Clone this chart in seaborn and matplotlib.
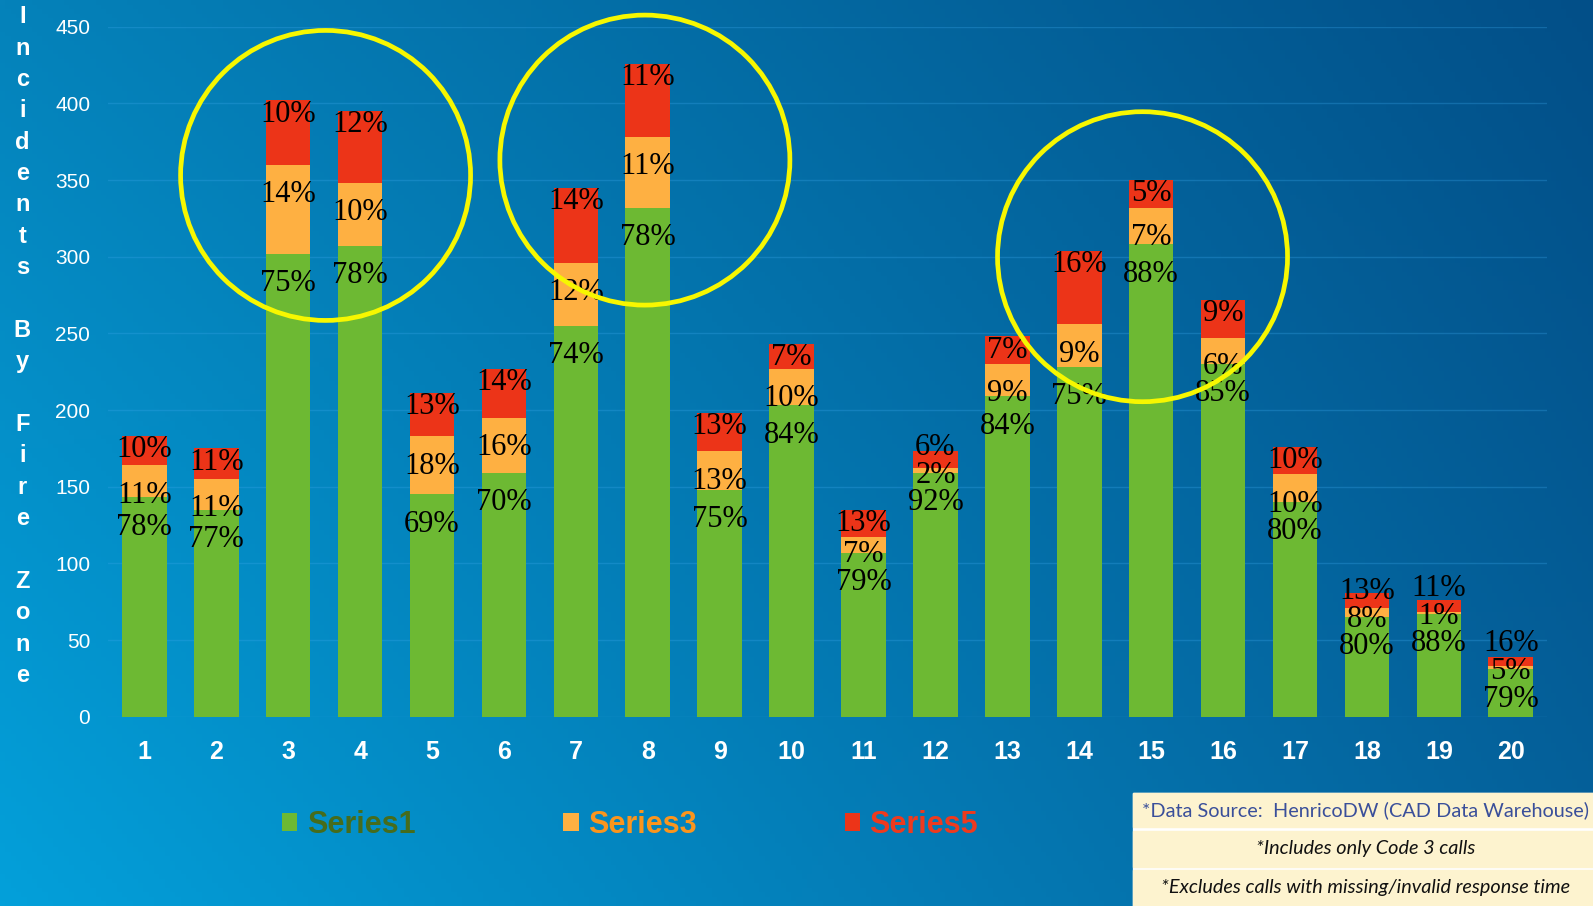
import numpy as np
import pandas as pd
import matplotlib
matplotlib.use("Agg")
import matplotlib.pyplot as plt
import seaborn as sns
from matplotlib.patches import Patch, Ellipse, Rectangle
from matplotlib.colors import to_rgb

# ---------------- data ----------------
zones = [str(i) for i in range(1, 21)]
series1 = [143, 135, 302, 307, 145, 159, 255, 332, 148, 203, 107, 159, 209, 228, 308, 230, 140, 65, 67, 31]
series3 = [21, 20, 58, 41, 38, 36, 41, 46, 25, 24, 10, 3, 21, 28, 24, 17, 18, 6, 1, 2]
series5 = [19, 20, 42, 47, 28, 32, 49, 48, 25, 16, 18, 11, 18, 48, 18, 25, 18, 10, 8, 6]
pct1 = [78, 77, 75, 78, 69, 70, 74, 78, 75, 84, 79, 92, 84, 75, 88, 85, 80, 80, 88, 79]
pct3 = [11, 11, 14, 10, 18, 16, 12, 11, 13, 10, 7, 2, 9, 9, 7, 6, 10, 8, 1, 5]
pct5 = [10, 11, 10, 12, 13, 14, 14, 11, 13, 7, 13, 6, 7, 16, 5, 9, 10, 13, 11, 16]
series_names = ["Series1", "Series3", "Series5"]
yticks = [0, 50, 100, 150, 200, 250, 300, 350, 400, 450]
ylabel_text = "Incidents By Fire Zone"
notes = ["*Data Source:  HenricoDW (CAD Data Warehouse)",
         "*Includes only Code 3 calls",
         "*Excludes calls with missing/invalid response time"]

# highlight circles (zone position, value)
highlights = [(2.52, 353), (6.96, 363), (13.88, 300)]

# ---------------- style ----------------
GREEN = "#6db933"
ORANGE = "#feb042"
RED = "#ec3418"
LEG_TEXT = ["#466c1c", "#fb951d", "#ee3a1e"]

W, H = 1593, 906
fig = plt.figure(figsize=(W / 100, H / 100), dpi=100)

# background gradient
tl, bl, tr, br = [np.array(to_rgb(c)) for c in ("#0582ba", "#03a0da", "#024f88", "#05629c")]
ny, nx = 200, 300
yy, xx = np.meshgrid(np.linspace(0, 1, ny), np.linspace(0, 1, nx), indexing="ij")
grad = ((1 - xx)[..., None] * ((1 - yy)[..., None] * tl + yy[..., None] * bl)
        + xx[..., None] * ((1 - yy)[..., None] * tr + yy[..., None] * br))
bg = fig.add_axes([0, 0, 1, 1], zorder=-10)
bg.imshow(grad, aspect="auto", extent=[0, 1, 0, 1], origin="upper")
bg.axis("off")

ax_l, ax_b = 108.4 / W, (H - 716.7) / H
ax_w, ax_h = 1438.3 / W, 690.0 / H
ax = fig.add_axes([ax_l, ax_b, ax_w, ax_h])
ax.set_facecolor("none")

df = pd.DataFrame({"zone": zones,
                   "s1": series1,
                   "s13": np.add(series1, series3),
                   "total": np.add(np.add(series1, series3), series5)})

for col, c in (("total", RED), ("s13", ORANGE), ("s1", GREEN)):
    sns.barplot(data=df, x="zone", y=col, order=zones, color=c, saturation=1,
                width=0.62, errorbar=None, ax=ax, linewidth=0, zorder=2)

ax.set_xlim(-0.5, 19.5)
ax.set_ylim(0, 450)
ax.set_yticks(yticks)
ax.set_xlabel("")
ax.set_ylabel("")
for s in ax.spines.values():
    s.set_visible(False)
ax.yaxis.grid(True, color="#3aa6ea", alpha=0.3, lw=1)
ax.xaxis.grid(False)
ax.set_axisbelow(True)
ax.tick_params(axis="x", length=0, pad=17, labelsize=18, labelcolor="white")
ax.tick_params(axis="y", length=0, pad=13, labelsize=15, labelcolor="white")
for lb in ax.get_xticklabels():
    lb.set_fontweight("bold")
    lb.set_fontfamily("Liberation Sans")
for lb in ax.get_yticklabels():
    lb.set_fontfamily("Liberation Sans")

# percentage labels
off, off_top, gap = 19.5, 9, 18
lab_font = dict(family="Liberation Serif", size=22, color="black",
                ha="center", va="center", zorder=5)
for i in range(len(zones)):
    t1 = series1[i]
    t3 = t1 + series3[i]
    t5 = t3 + series5[i]
    y1 = t1 - off
    y3 = max(t3 - off, y1 + gap)
    y5 = max(t5 - off_top, y3 + gap)
    ax.text(i, y1, f"{pct1[i]}%", **lab_font)
    ax.text(i, y3, f"{pct3[i]}%", **lab_font)
    ax.text(i, y5, f"{pct5[i]}%", **lab_font)

# yellow highlight circles
xs = ax_w * W / 20.0
ys = ax_h * H / 450.0
r = 145
for cx, cy in highlights:
    ax.add_patch(Ellipse((cx, cy), 2 * r / xs, 2 * r / ys, fill=False,
                         ec="#f7f700", lw=3.4, zorder=10, clip_on=False))

# vertical stacked y-label
lines = []
for w_i, word in enumerate(ylabel_text.split(" ")):
    if w_i:
        lines.append("")
    lines.extend(list(word))
y0, step = 16.7, 31.37
for k, ch in enumerate(lines):
    if ch:
        fig.text(22.4 / W, 1 - (y0 + k * step) / H, ch, ha="center", va="center",
                 color="white", fontsize=17, fontweight="bold", family="Liberation Sans")

# legend
handles = [Patch(facecolor=c, edgecolor="none") for c in (GREEN, ORANGE, RED)]
leg = fig.legend(handles, series_names, loc="center", bbox_to_anchor=(630 / W, 1 - 825 / H),
                 ncol=3, frameon=False, handlelength=0.5, handleheight=0.5,
                 handletextpad=0.3, columnspacing=4.85,
                 prop={"family": "Liberation Sans", "weight": "bold", "size": 22})
for t, c in zip(leg.get_texts(), LEG_TEXT):
    t.set_color(c)

# notes box
BEIGE = "#fdf3cf"
rows = [(792.7, 827.3), (830.7, 866.7), (870.0, 906.0)]
x0 = 1133 / W
fig.patches.append(Rectangle((x0, 1 - 906 / H), 1 - x0, (906 - 792.7) / H,
                             transform=fig.transFigure, color="white", zorder=1))
for (a, b), txt, k in zip(rows, notes, range(3)):
    fig.patches.append(Rectangle((x0, 1 - b / H), 1 - x0, (b - a) / H,
                                 transform=fig.transFigure, color=BEIGE, zorder=2))
    fig.text(1366 / W, 1 - (a + b) / 2 / H, txt, ha="center", va="center",
             fontsize=14.3, family="Lato", zorder=3,
             color="#3a4f9a" if k == 0 else "#111111",
             style="normal" if k == 0 else "italic")

fig.savefig("out.png", dpi=100)
